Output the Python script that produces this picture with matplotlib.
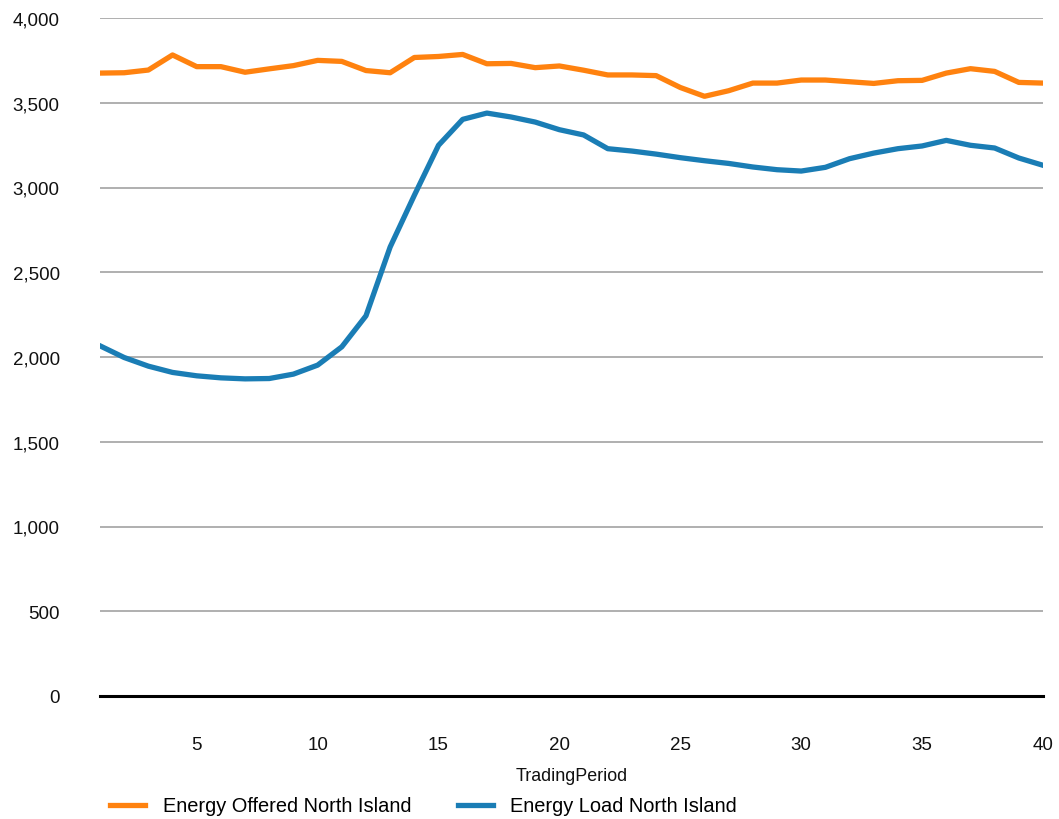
import matplotlib
matplotlib.use("Agg")
import matplotlib.pyplot as plt
from matplotlib.ticker import FuncFormatter, MultipleLocator

plt.rcParams['font.family'] = ['Liberation Sans', 'DejaVu Sans']

periods = list(range(1, 41))
offered = [3675, 3677, 3693, 3782, 3713, 3713, 3680, 3700, 3719, 3750,
           3744, 3690, 3677, 3767, 3773, 3785, 3730, 3732, 3707, 3717,
           3692, 3664, 3664, 3660, 3590, 3538, 3571, 3616, 3616, 3634,
           3634, 3624, 3614, 3630, 3632, 3675, 3701, 3685, 3620, 3616]
load = [2066, 1997, 1946, 1909, 1889, 1877, 1871, 1873, 1899, 1952,
        2060, 2243, 2649, 2954, 3249, 3402, 3439, 3416, 3386, 3341,
        3310, 3229, 3215, 3197, 3176, 3158, 3142, 3121, 3105, 3097,
        3119, 3170, 3203, 3229, 3245, 3278, 3249, 3233, 3174, 3131]
series_names = ["Energy Offered North Island", "Energy Load North Island"]
colors = ["#FF820F", "#1A7DB5"]
xticks = [5, 10, 15, 20, 25, 30, 35, 40]

W, H = 1059, 820
fig = plt.figure(figsize=(W / 100, H / 100), dpi=100)
ax = fig.add_axes([100 / W, 1 - 697 / H, (1043 - 100) / W, (697 - 19) / H])

ax.plot(periods, offered, color=colors[0], lw=3.8, label=series_names[0],
        solid_joinstyle='round', zorder=3)
ax.plot(periods, load, color=colors[1], lw=3.8, label=series_names[1],
        solid_joinstyle='round', zorder=3)

ax.set_xlim(1, 40)
ax.set_ylim(0, 4000)
ax.yaxis.set_major_locator(MultipleLocator(500))
ax.yaxis.set_major_formatter(FuncFormatter(lambda v, p: f"{int(v):,}"))
ax.set_xticks(xticks)
ax.grid(axis='y', color='#9a9a9a', lw=1.1, zorder=1)
ax.axhline(0, color='black', lw=2.2, zorder=4, clip_on=False)
for s in ax.spines.values():
    s.set_visible(False)
ax.tick_params(axis='both', length=0, labelsize=13.5, colors='#111111')
ax.tick_params(axis='y', pad=29)
ax.tick_params(axis='x', pad=29)
ax.set_xlabel("TradingPeriod", fontsize=12.9, labelpad=10, color='#111111')

handles, labels = ax.get_legend_handles_labels()
fig.legend(handles, labels, loc='center left', bbox_to_anchor=(110 / W, 1 - 807 / H),
           ncol=2, frameon=False, fontsize=14.4, handlelength=1.75,
           handletextpad=0.9, columnspacing=2.3, borderaxespad=0, borderpad=0)

fig.savefig("out.png", dpi=100)
